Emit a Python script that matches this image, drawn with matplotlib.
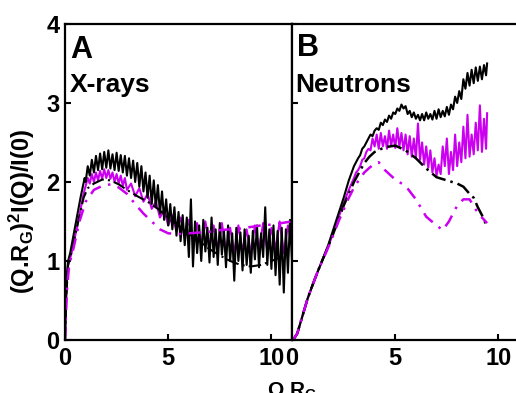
import matplotlib
matplotlib.use("Agg")
import matplotlib.pyplot as plt

plt.rcParams['font.family'] = ['Liberation Sans', 'DejaVu Sans']
plt.rcParams['font.weight'] = 'bold'
plt.rcParams['mathtext.fontset'] = 'custom'
plt.rcParams['mathtext.rm'] = 'Liberation Sans:bold'
plt.rcParams['mathtext.it'] = 'Liberation Sans:bold'
plt.rcParams['mathtext.bf'] = 'Liberation Sans:bold'
plt.rcParams['mathtext.default'] = 'rm'

MAGENTA = '#cc00f0'

# ---- panel A: X-rays ----
xray_q_black = [0.0, 0.05, 0.1, 0.15, 0.25, 0.5, 0.75, 0.95,
                1.0, 1.1, 1.2, 1.3, 1.4, 1.5, 1.6, 1.7, 1.8, 1.9,
                2.0, 2.1, 2.2, 2.3, 2.4, 2.5, 2.6, 2.7, 2.8, 2.9,
                3.0, 3.1, 3.2, 3.3, 3.4, 3.5, 3.6, 3.7, 3.8, 3.9,
                4.0, 4.1, 4.2, 4.3, 4.4, 4.5, 4.6, 4.7, 4.8, 4.9,
                5.0, 5.1, 5.2, 5.3, 5.4, 5.5, 5.6, 5.7, 5.8, 5.9,
                6.0, 6.1, 6.2, 6.3, 6.4, 6.5, 6.6, 6.7, 6.8, 6.9,
                7.0, 7.1, 7.2, 7.3, 7.4, 7.5, 7.6, 7.7, 7.8, 7.9,
                8.0, 8.1, 8.2, 8.3, 8.4, 8.5, 8.6, 8.7, 8.8, 8.9,
                9.0, 9.1, 9.2, 9.3, 9.4, 9.5, 9.6, 9.7, 9.8, 9.9,
                10.0, 10.1, 10.2, 10.3, 10.4, 10.5, 10.6, 10.7, 10.8, 10.9, 11.0]
xray_black = [0.0, 0.55, 0.85, 1.0, 1.1, 1.45, 1.8, 2.05,
              2.0, 2.2, 2.08, 2.28, 2.12, 2.33, 2.15, 2.36, 2.16, 2.38,
              2.18, 2.4, 2.17, 2.35, 2.15, 2.37, 2.14, 2.34, 2.12, 2.33,
              2.08, 2.3, 2.05, 2.27, 2.0, 2.24, 1.94, 2.2, 1.88, 2.12,
              1.8, 2.08, 1.72, 2.02, 1.68, 1.96, 1.6, 1.88, 1.52, 1.78,
              1.45, 1.72, 1.4, 1.68, 1.32, 1.62, 1.25, 1.58, 1.2, 1.55,
              1.05, 1.78, 0.93, 1.5, 1.1, 1.45, 1.0, 1.52, 1.12, 1.42,
              0.98, 1.55, 1.05, 1.4, 0.95, 1.48, 1.08, 1.38, 0.92, 1.45,
              1.0, 1.35, 0.75, 1.42, 1.0, 1.36, 0.88, 1.4, 0.95, 1.32,
              0.85, 1.38, 1.02, 1.45, 0.92, 1.35, 1.05, 1.68, 0.95, 1.4,
              0.9, 1.45, 0.82, 1.38, 0.7, 1.42, 0.6, 1.4, 0.85, 1.52, 1.0]

xray_q_mag = [0.0, 0.05, 0.1, 0.15, 0.3, 0.6, 0.9,
              1.0, 1.1, 1.2, 1.3, 1.4, 1.5, 1.6, 1.7, 1.8, 1.9,
              2.0, 2.1, 2.2, 2.3, 2.4, 2.5, 2.6, 2.7, 2.8, 2.9,
              3.0, 3.2, 3.4, 3.6, 3.8, 4.0, 4.2, 4.4, 4.6, 4.8,
              5.0, 5.2, 5.4, 5.6, 5.8, 6.0, 6.2, 6.4, 6.6, 6.8,
              7.0, 7.2, 7.4, 7.6, 7.8, 8.0, 8.2, 8.4, 8.6, 8.8,
              9.0, 9.2, 9.4, 9.6, 9.8, 10.0, 10.2, 10.4, 10.6, 10.8, 11.0]
xray_mag = [0.0, 0.45, 0.8, 0.95, 1.08, 1.45, 1.85,
            1.95, 2.05, 1.98, 2.1, 2.0, 2.12, 2.02, 2.14, 2.04, 2.16,
            2.05, 2.15, 2.04, 2.12, 2.0, 2.1, 1.98, 2.08, 1.95, 2.05,
            1.9, 1.98, 1.82, 1.92, 1.75, 1.85, 1.66, 1.75, 1.55, 1.65,
            1.45, 1.58, 1.38, 1.55, 1.3, 1.52, 1.25, 1.48, 1.2, 1.5,
            1.18, 1.45, 1.15, 1.48, 1.12, 1.42, 1.1, 1.45, 1.12, 1.4,
            1.1, 1.45, 1.15, 1.48, 1.12, 1.42, 1.15, 1.5, 1.1, 1.45, 1.2]

xray_q_fit_black = [0.0, 0.05, 0.15, 0.3, 0.6, 0.9, 1.1, 1.4, 1.8, 2.2, 2.6,
                    3.0, 3.5, 4.0, 4.5, 5.0, 5.5, 6.0, 6.5, 7.0, 7.5, 8.0,
                    8.5, 9.0, 9.5, 10.0, 10.5, 11.0]
xray_fit_black = [0.0, 0.5, 0.95, 1.1, 1.45, 1.8, 1.92, 1.98, 2.03, 2.02, 1.97,
                  1.9, 1.82, 1.75, 1.66, 1.55, 1.45, 1.35, 1.25, 1.15, 1.07, 1.0,
                  0.95, 0.93, 0.95, 1.0, 1.05, 1.1]

xray_q_fit_mag = [0.0, 0.05, 0.1, 0.2, 0.4, 0.7, 1.0, 1.4, 1.8, 2.2, 2.6,
                  3.0, 3.4, 3.8, 4.2, 4.6, 5.0, 5.5, 6.0, 6.5, 7.0, 7.5,
                  8.0, 8.5, 9.0, 9.5, 10.0, 10.5, 11.0]
xray_fit_mag = [0.0, 0.35, 0.65, 0.95, 1.15, 1.5, 1.75, 1.9, 1.95, 1.97, 1.93,
                1.85, 1.72, 1.6, 1.5, 1.4, 1.35, 1.34, 1.35, 1.36, 1.37, 1.39,
                1.4, 1.41, 1.43, 1.45, 1.46, 1.48, 1.5]

# ---- panel B: Neutrons ----
neut_q = [0.05, 0.25, 0.5, 0.75, 1.0, 1.25, 1.5, 1.75, 2.0, 2.25, 2.5, 2.75,
          3.0, 3.1, 3.2, 3.3, 3.4, 3.5, 3.6, 3.7, 3.8, 3.9,
          4.0, 4.1, 4.2, 4.3, 4.4, 4.5, 4.6, 4.7, 4.8, 4.9,
          5.0, 5.1, 5.2, 5.3, 5.4, 5.5, 5.6, 5.7, 5.8, 5.9,
          6.0, 6.1, 6.2, 6.3, 6.4, 6.5, 6.6, 6.7, 6.8, 6.9,
          7.0, 7.1, 7.2, 7.3, 7.4, 7.5, 7.6, 7.7, 7.8, 7.9,
          8.0, 8.1, 8.2, 8.3, 8.4, 8.5, 8.6, 8.7, 8.8, 8.9,
          9.0, 9.1, 9.2, 9.3, 9.4, 9.45]
neut_black = [0.0, 0.08, 0.3, 0.52, 0.7, 0.87, 1.03, 1.2, 1.4, 1.6, 1.8, 2.02,
              2.2, 2.25, 2.3, 2.34, 2.42, 2.45, 2.5, 2.55, 2.6, 2.58,
              2.65, 2.68, 2.66, 2.75, 2.72, 2.79, 2.76, 2.84, 2.8, 2.88,
              2.86, 2.93, 2.9, 2.98, 2.93, 2.96, 2.86, 2.9, 2.82, 2.88,
              2.8, 2.85, 2.78, 2.86, 2.78, 2.88, 2.8, 2.86, 2.79, 2.9,
              2.8, 2.92, 2.82, 2.9, 2.83, 2.95, 2.85, 2.98, 2.92, 3.08,
              3.0, 3.15, 3.05, 3.3, 3.18, 3.38, 3.22, 3.42, 3.25, 3.45,
              3.28, 3.46, 3.3, 3.48, 3.35, 3.5]
neut_mag = [0.0, 0.08, 0.3, 0.52, 0.7, 0.87, 1.03, 1.18, 1.36, 1.55, 1.73, 1.9,
            2.05, 2.12, 2.15, 2.2, 2.28, 2.3, 2.38, 2.42, 2.4, 2.55,
            2.45, 2.6, 2.42, 2.62, 2.45, 2.58, 2.42, 2.65, 2.46, 2.6,
            2.43, 2.68, 2.45, 2.62, 2.4, 2.6, 2.35, 2.58, 2.32, 2.55,
            2.3, 2.74, 2.28, 2.5, 2.22, 2.45, 2.18, 2.4, 2.12, 2.3,
            2.08, 2.22, 2.1, 2.45, 2.2, 2.55, 2.1, 2.38, 2.15, 2.6,
            2.2, 2.5, 2.25, 2.7, 2.3, 2.85, 2.32, 2.6, 2.35, 2.75,
            2.4, 2.97, 2.38, 2.8, 2.42, 2.87]

neut_q_fit_black = [0.05, 0.25, 0.5, 0.75, 1.0, 1.25, 1.5, 1.75, 2.0, 2.25, 2.5,
                    2.75, 3.0, 3.25, 3.5, 3.75, 4.0, 4.5, 5.0, 5.5, 6.0, 6.5,
                    7.0, 7.5, 8.0, 8.3, 8.6, 8.8, 9.0, 9.2, 9.45]
neut_fit_black = [0.0, 0.08, 0.3, 0.52, 0.7, 0.87, 1.03, 1.18, 1.35, 1.52, 1.7,
                  1.85, 2.0, 2.12, 2.24, 2.32, 2.38, 2.44, 2.46, 2.4, 2.3, 2.17,
                  2.06, 2.02, 1.98, 1.94, 1.85, 1.8, 1.68, 1.58, 1.43]

neut_q_fit_mag = [0.05, 0.25, 0.5, 0.75, 1.0, 1.25, 1.5, 1.75, 2.0, 2.25, 2.5,
                  2.75, 3.0, 3.25, 3.5, 3.75, 4.0, 4.2, 4.5, 5.0, 5.5, 6.0,
                  6.5, 7.0, 7.3, 7.6, 8.0, 8.3, 8.6, 8.9, 9.2, 9.45]
neut_fit_mag = [0.0, 0.08, 0.3, 0.52, 0.7, 0.87, 1.02, 1.17, 1.33, 1.5, 1.65,
                1.8, 1.93, 2.03, 2.12, 2.18, 2.23, 2.25, 2.15, 2.03, 1.95, 1.78,
                1.56, 1.45, 1.39, 1.5, 1.7, 1.78, 1.78, 1.65, 1.55, 1.48]

xticks = [0, 5, 10]
yticks = [0, 1, 2, 3, 4]

fig = plt.figure(figsize=(5.16, 3.93), dpi=100)
ax1 = fig.add_axes([0.126, 0.135, 0.44, 0.804])
ax2 = fig.add_axes([0.566, 0.135, 0.44, 0.804])

ax1.plot(xray_q_mag, xray_mag, color=MAGENTA, lw=1.5)
ax1.plot(xray_q_black, xray_black, color='black', lw=1.5)
ax1.plot(xray_q_fit_black, xray_fit_black, color='black', lw=1.5, dashes=(6, 2, 1, 2))
ax1.plot(xray_q_fit_mag, xray_fit_mag, color=MAGENTA, lw=1.8, dashes=(5, 3, 1, 3))

ax2.plot(neut_q, neut_mag, color=MAGENTA, lw=1.5)
ax2.plot(neut_q, neut_black, color='black', lw=1.5)
ax2.plot(neut_q_fit_black, neut_fit_black, color='black', lw=1.8, dashes=(6, 2, 1, 2))
ax2.plot(neut_q_fit_mag, neut_fit_mag, color=MAGENTA, lw=1.8, dashes=(5, 3, 1, 3))

for ax in (ax1, ax2):
    ax.set_xlim(0, 11)
    ax.set_ylim(0, 4)
    ax.set_xticks(xticks)
    ax.set_yticks(yticks)
    ax.tick_params(direction='in', length=4, width=1.5, labelsize=17)
    ax.tick_params(axis='x', pad=5)
    ax.tick_params(axis='y', pad=4)
    for s in ax.spines.values():
        s.set_linewidth(1.6)
ax2.tick_params(labelleft=False)

ax1.text(0.022, 0.892, 'A', transform=ax1.transAxes, fontsize=22, fontweight='bold')
ax1.text(0.022, 0.785, 'X-rays', transform=ax1.transAxes, fontsize=19, fontweight='bold')
ax2.text(0.022, 0.9, 'B', transform=ax2.transAxes, fontsize=22, fontweight='bold')
ax2.text(0.015, 0.785, 'Neutrons', transform=ax2.transAxes, fontsize=19, fontweight='bold')

fig.text(0.043, 0.463, r'(Q.R$_G$)$^2$I(Q)/I(0)', rotation=90, ha='center', va='center',
         fontsize=17, fontweight='bold')
fig.text(0.566, -0.008, r'Q.R$_G$', ha='center', va='baseline', fontsize=15, fontweight='bold')

fig.savefig('out.png', dpi=100)
